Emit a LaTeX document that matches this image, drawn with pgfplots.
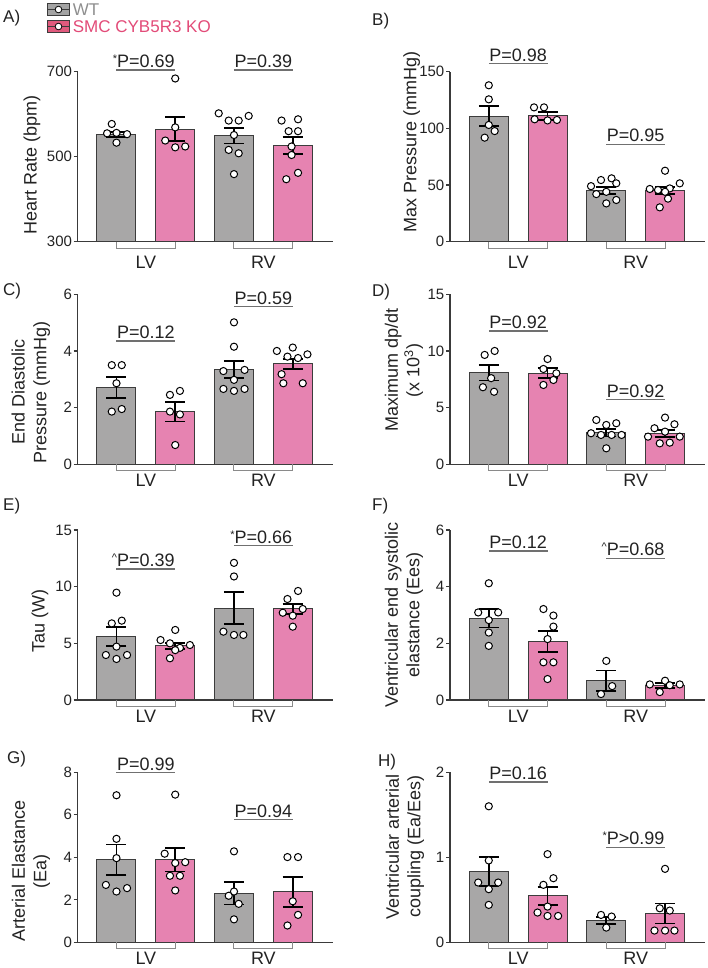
\documentclass[border=0pt]{standalone}
\usepackage{fontspec}
\setmainfont{Liberation Sans}
\usepackage{pgfplots}
\pgfplotsset{compat=1.18}
\definecolor{wtfill}{HTML}{A8A7A7}
\definecolor{kofill}{HTML}{E683B1}
\definecolor{edgec}{HTML}{3C3C3C}
\definecolor{axisc}{HTML}{3A3A3A}
\definecolor{txtc}{HTML}{222222}
\definecolor{brkc}{HTML}{8A8A8A}
\definecolor{ulc}{HTML}{707070}
\definecolor{wtleg}{HTML}{A3A3A3}
\definecolor{koleg}{HTML}{E05A7D}
\definecolor{wttxt}{HTML}{8E8E8E}
\definecolor{kotxt}{HTML}{E24B78}
\newcommand{\tickfont}{\fontsize{15}{15}\selectfont}
\newcommand{\labfont}{\fontsize{18}{21.6}\selectfont}
\newcommand{\pfont}{\fontsize{18}{18}\selectfont}
\newcommand{\legfont}{\fontsize{17}{17}\selectfont}
\newcommand{\letfont}{\fontsize{17}{17}\selectfont}
\newcommand{\sm}[1]{\llap{\raisebox{5pt}{\fontsize{11}{11}\selectfont #1}}}
\pgfplotsset{
 panel/.style={
  width=255pt, height=170pt, scale only axis,
  xmin=-0.66, xmax=3.68,
  axis x line=bottom, axis y line=left,
  axis line style={-, draw=axisc, line width=1.1pt},
  xtick=\empty,
  tick align=outside, major tick length=4pt,
  ytick style={draw=axisc, line width=1.1pt},
  yticklabel style={font=\tickfont, text=txtc, inner sep=1.5pt},
  /pgf/number format/assume math mode=true,
  clip mode=individual,
  ylabel style={font=\labfont, text=txtc, align=center, anchor=center},
 },
 wtbar/.style={ybar, bar width=39pt, bar shift=0pt, fill=wtfill, draw=edgec, line width=1pt,
   error bars/y dir=both, error bars/y explicit,
   error bars/error mark=-,
   error bars/error bar style={line width=1.8pt, black},
   error bars/error mark options={rotate=90, line width=1.8pt, black, mark size=10pt}},
 kobar/.style={wtbar, fill=kofill},
 dots/.style={only marks, mark=*, mark size=3.6pt, mark options={fill=white, draw=black, line width=1pt}},
}
% #1 ymin, #2 y of left P, #3 left text, #4 y of right P, #5 right text, #6 label drop
\newcommand{\grp}[6]{%
 \draw[brkc, line width=1pt] (axis cs:0,#1) -- ([yshift=-6.5pt]axis cs:0,#1) -- ([yshift=-6.5pt]axis cs:1,#1) -- (axis cs:1,#1);
 \draw[brkc, line width=1pt] (axis cs:2,#1) -- ([yshift=-6.5pt]axis cs:2,#1) -- ([yshift=-6.5pt]axis cs:3,#1) -- (axis cs:3,#1);
 \node[anchor=base, font=\pfont, text=txtc, inner sep=0pt] at ([yshift=-#6]axis cs:0.5,#1) {LV};
 \node[anchor=base, font=\pfont, text=txtc, inner sep=0pt] at ([yshift=-#6]axis cs:2.5,#1) {RV};
 \draw[ulc, line width=1.1pt] (axis cs:0,#2) -- (axis cs:1,#2);
 \node[anchor=base, font=\pfont, text=txtc, inner sep=0pt] at ([yshift=2.5pt]axis cs:0.5,#2) {#3};
 \draw[ulc, line width=1.1pt] (axis cs:2,#4) -- (axis cs:3,#4);
 \node[anchor=base, font=\pfont, text=txtc, inner sep=0pt] at ([yshift=2.5pt]axis cs:2.5,#4) {#5};
}
\begin{document}
\begin{tikzpicture}
\useasboundingbox (0,0) rectangle (707pt,968pt);
% ---------------- A
\begin{axis}[panel, at={(77.7pt,726.3pt)}, anchor=south west,
  ymin=300, ymax=700, ytick={300,500,700},
  ylabel={Heart Rate (bpm)},
  ylabel style={at={([xshift=-45.7pt]axis description cs:0,0.451)}},
  legend style={at={(axis description cs:-0.12,1.404)}, anchor=north west, draw=none, fill=none,
    inner sep=0pt, outer sep=0pt, font=\legfont, row sep=4pt, column sep=3pt,
    nodes={inner sep=0pt, text height=12pt, text depth=1pt}, cells={anchor=west}},
  legend cell align=left]
\addlegendimage{legend image code/.code={\draw[draw=edgec, line width=0.8pt, fill=wtleg] (0pt,-5.7pt) rectangle (22pt,5.7pt); \draw[edgec, line width=0.8pt] (0pt,0pt) -- (22pt,0pt); \draw[black, line width=0.8pt, fill=white] (11pt,0pt) circle (3.3pt);}}
\addlegendentry{\textcolor{wttxt}{WT}}
\addlegendimage{legend image code/.code={\draw[draw=edgec, line width=0.8pt, fill=koleg] (0pt,-5.7pt) rectangle (22pt,5.7pt); \draw[edgec, line width=0.8pt] (0pt,0pt) -- (22pt,0pt); \draw[black, line width=0.8pt, fill=white] (11pt,0pt) circle (3.3pt);}}
\addlegendentry{\textcolor{kotxt}{SMC CYB5R3 KO}}
\addplot[wtbar] coordinates {(0,553) +- (0,6) (2,549) +- (0,18)};
\addplot[kobar] coordinates {(1,565) +- (0,29) (3,526) +- (0,19.5)};
\addplot[dots] coordinates {(-0.08,577) (-0.16,555) (0.0,556) (0.18,553) (0.0,533)
 (1,684) (1,569) (0.83,538) (1,522) (1.17,524)
 (1.74,602) (2.25,596) (1.91,585) (2.08,585) (2,551) (1.91,516) (2.08,508) (2,459)
 (2.81,585) (3.09,588) (2.93,560) (3.09,560) (2.98,524) (2.98,504) (3.09,462) (2.89,447)};
\grp{300}{704}{\sm{*}P=0.69}{704}{P=0.39}{26.5pt}
\end{axis}
% ---------------- B
\begin{axis}[panel, at={(450pt,726.3pt)}, anchor=south west,
  ymin=0, ymax=150, ytick={0,50,100,150},
  ylabel={Max Pressure (mmHg)},
  ylabel style={at={([xshift=-38.3pt]axis description cs:0,0.586)}}]
\addplot[wtbar] coordinates {(0,110.6) +- (0,8.8) (2,45) +- (0,3.2)};
\addplot[kobar] coordinates {(1,110.9) +- (0,3.5) (3,45) +- (0,3.2)};
\addplot[dots] coordinates {(0,138) (0,125.6) (0.1,97.6) (-0.07,91.8) (0,103)
 (0.77,118.5) (0.94,118.5) (0.78,108) (1.0,107) (1.16,107.4)
 (1.74,49) (1.91,54.4) (2.09,55.9) (1.83,42) (2,44) (2.17,51.5) (2,33.8) (2.17,36.8)
 (3,62.6) (2.74,46.5) (2.88,45.6) (3.08,47) (3.25,51.5) (3,44) (3.05,38) (2.91,30.3)};
\grp{0}{157}{P=0.98}{85.9}{P=0.95}{26.5pt}
\end{axis}
% ---------------- C
\begin{axis}[panel, at={(77.7pt,503.7pt)}, anchor=south west,
  ymin=0, ymax=6, ytick={0,2,4,6},
  ylabel={End Diastolic\\Pressure (mmHg)},
  ylabel style={at={([xshift=-46.9pt]axis description cs:0,0.425)}}]
\addplot[wtbar] coordinates {(0,2.71) +- (0,0.36) (2,3.35) +- (0,0.3)};
\addplot[kobar] coordinates {(1,1.85) +- (0,0.34) (3,3.55) +- (0,0.18)};
\addplot[dots] coordinates {(-0.08,3.5) (0.09,3.5) (0,2.86) (-0.08,1.86) (0.09,1.95)
 (0.91,2.45) (1.08,2.59) (0.91,1.86) (1.08,1.76) (1,0.68)
 (2,5.01) (2,4.15) (1.82,3.29) (2.18,3.33) (2,2.98) (1.82,2.66) (2,2.59) (2.18,2.66)
 (2.73,4.0) (3,4.12) (2.91,3.8) (3.09,3.75) (3.25,3.88) (2.81,3.18) (2.84,2.86) (3.17,2.86)};
\grp{0}{4.35}{P=0.12}{5.56}{P=0.59}{22.3pt}
\end{axis}
% ---------------- D
\begin{axis}[panel, at={(450pt,503.7pt)}, anchor=south west,
  ymin=0, ymax=15, ytick={0,5,10,15},
  ylabel={Maximum dp/dt\\(x 10\textsuperscript{3})},
  ylabel style={at={([xshift=-46pt]axis description cs:0,0.553)}}]
\addplot[wtbar] coordinates {(0,8.09) +- (0,0.69) (2,2.79) +- (0,0.33)};
\addplot[kobar] coordinates {(1,8.03) +- (0,0.44) (3,2.74) +- (0,0.3)};
\addplot[dots] coordinates {(-0.07,9.65) (0.1,10.0) (0.04,7.6) (-0.1,6.8) (0.09,6.4)
 (1,9.29) (0.93,8.41) (1.15,8.03) (1.1,7.44) (0.93,7.0)
 (1.83,3.91) (2,3.47) (2.17,3.62) (1.74,2.74) (1.91,2.59) (2.09,2.59) (2.26,2.59) (2,1.41)
 (3,4.12) (2.82,3.18) (3.16,3.53) (2.71,2.44) (2.91,1.85) (3.08,1.91) (3.25,2.44) (3,2.88)};
\grp{0}{11.76}{P=0.92}{5.68}{P=0.92}{22.3pt}
\end{axis}
% ---------------- E
\begin{axis}[panel, at={(77.7pt,268pt)}, anchor=south west,
  ymin=0, ymax=15, ytick={0,5,10,15},
  ylabel={Tau (W)},
  ylabel style={at={([xshift=-37.7pt]axis description cs:0,0.466)}}]
\addplot[wtbar] coordinates {(0,5.59) +- (0,0.84) (2,8.09) +- (0,1.41)};
\addplot[kobar] coordinates {(1,4.79) +- (0,0.27) (3,8.03) +- (0,0.44)};
\addplot[dots] coordinates {(0,9.47) (-0.08,6.76) (0.09,7.0) (0,4.71) (-0.18,3.97) (0.18,3.97) (0,3.62)
 (1,6.18) (0.75,5.29) (0.91,5.0) (1.08,4.6) (1.25,4.85) (1,4.4) (0.91,3.68)
 (2,12.1) (2,10.9) (1.82,6.03) (2,5.74) (2.16,5.74)
 (3.09,9.62) (2.91,8.91) (3.17,8.03) (2.83,7.7) (3,7.44) (3,6.47)};
\grp{0}{11.56}{\sm{\textasciicircum}P=0.39}{13.6}{\sm{*}P=0.66}{22.3pt}
\end{axis}
% ---------------- F
\begin{axis}[panel, at={(450pt,268pt)}, anchor=south west,
  ymin=0, ymax=6, ytick={0,2,4,6},
  ylabel={Ventricular end systolic\\elastance (Ees)},
  ylabel style={at={([xshift=-46pt]axis description cs:0,0.5)}}]
\addplot[wtbar] coordinates {(0,2.88) +- (0,0.32) (2,0.68) +- (0,0.36)};
\addplot[kobar] coordinates {(1,2.06) +- (0,0.37) (3,0.51) +- (0,0.08)};
\addplot[dots] coordinates {(0,4.12) (-0.18,3.09) (0.16,3.09) (0,2.82) (0,2.38) (0,1.91)
 (0.93,3.21) (1.1,2.98) (1.1,2.59) (1,2.15) (0.93,1.33) (1.1,1.33) (1,0.74)
 (2,1.38) (2.1,0.49) (1.91,0.21)
 (2.74,0.55) (3,0.68) (3.08,0.52) (3.25,0.55) (2.91,0.28)};
\grp{0}{5.26}{P=0.12}{5.0}{\sm{\textasciicircum}P=0.68}{22.3pt}
\end{axis}
% ---------------- G
\begin{axis}[panel, at={(77.7pt,25.7pt)}, anchor=south west,
  ymin=0, ymax=8, ytick={0,2,4,6,8},
  ylabel={Arterial Elastance\\(Ea)},
  ylabel style={at={([xshift=-46.7pt]axis description cs:0,0.419)}}]
\addplot[wtbar] coordinates {(0,3.88) +- (0,0.72) (2,2.31) +- (0,0.53)};
\addplot[kobar] coordinates {(1,3.88) +- (0,0.55) (3,2.37) +- (0,0.69)};
\addplot[dots] coordinates {(0,6.92) (0,4.87) (0,3.96) (-0.18,2.7) (0,2.39) (0.18,2.55)
 (1,6.95) (0.82,4.17) (1,3.73) (1.17,3.77) (0.91,3.13) (1.08,3.13) (1,2.44)
 (2,4.28) (2,2.39) (1.91,2.19) (2.08,1.81) (2,1.08)
 (2.91,4.01) (3.09,4.01) (3,1.93) (3.09,1.29) (2.91,0.79)};
\grp{0}{7.97}{P=0.99}{5.77}{P=0.94}{22.3pt}
\end{axis}
% ---------------- H
\begin{axis}[panel, at={(450pt,25.7pt)}, anchor=south west,
  ymin=0, ymax=2, ytick={0,1,2},
  ylabel={Ventricular arterial\\coupling (Ea/Ees)},
  ylabel style={at={([xshift=-45pt]axis description cs:0,0.562)}}]
\addplot[wtbar] coordinates {(0,0.833) +- (0,0.17) (2,0.255) +- (0,0.044)};
\addplot[kobar] coordinates {(1,0.546) +- (0,0.106) (3,0.338) +- (0,0.118)};
\addplot[dots] coordinates {(0,1.6) (0,0.963) (-0.18,0.703) (0.16,0.703) (0,0.625) (0,0.44)
 (1,1.037) (1.1,0.754) (0.93,0.676) (1,0.42) (0.83,0.35) (1,0.31) (1.18,0.31)
 (1.91,0.322) (2.09,0.303) (2,0.173)
 (3,0.864) (2.91,0.4) (3.08,0.373) (2.82,0.138) (3,0.138) (3.16,0.138)};
\grp{0}{1.886}{P=0.16}{1.12}{\sm{*}P>0.99}{22.3pt}
\end{axis}
% panel letters
\node[anchor=base west, font=\letfont, text=txtc, inner sep=0pt] at (3pt,945pt) {A)};
\node[anchor=base west, font=\letfont, text=txtc, inner sep=0pt] at (372pt,942pt) {B)};
\node[anchor=base west, font=\letfont, text=txtc, inner sep=0pt] at (3pt,672pt) {C)};
\node[anchor=base west, font=\letfont, text=txtc, inner sep=0pt] at (372pt,671pt) {D)};
\node[anchor=base west, font=\letfont, text=txtc, inner sep=0pt] at (3pt,457pt) {E)};
\node[anchor=base west, font=\letfont, text=txtc, inner sep=0pt] at (372pt,457pt) {F)};
\node[anchor=base west, font=\letfont, text=txtc, inner sep=0pt] at (7pt,204pt) {G)};
\node[anchor=base west, font=\letfont, text=txtc, inner sep=0pt] at (378pt,201pt) {H)};
\end{tikzpicture}
\end{document}
